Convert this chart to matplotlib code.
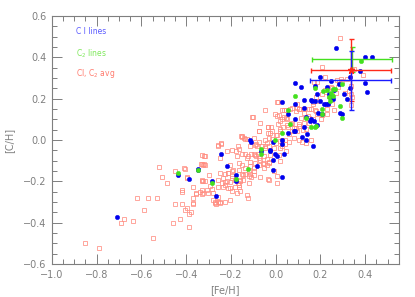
import matplotlib
matplotlib.use('Agg')
import matplotlib.pyplot as plt
from matplotlib.ticker import MultipleLocator

# C I + C2 averaged abundances (open red squares)
avg_feh = [-0.853, -0.79, -0.69, -0.68, -0.638, -0.62, -0.569, -0.529, -0.589, -0.548,
           -0.52, -0.506, -0.487, -0.448, -0.448, -0.457, -0.427, -0.417, -0.417, -0.417,
           -0.407, -0.407, -0.397, -0.397, -0.388, -0.388, -0.379, -0.369, -0.369, -0.358,
           -0.328, -0.328, -0.319, -0.328, -0.328,
           -0.328, -0.321, -0.334, -0.328, -0.298, -0.316, -0.324, -0.304, -0.286, -0.279,
           -0.271, -0.256, -0.249, -0.267, -0.249, -0.226, -0.211, -0.196, -0.196, -0.234,
           -0.219, -0.204, -0.226, -0.214, -0.196, -0.204, -0.181, -0.166, -0.159, -0.174,
           -0.151, -0.136, -0.114, -0.099, -0.121, -0.109, -0.166, -0.151, -0.136, -0.124,
           -0.109, -0.099, -0.088, -0.079, -0.054, -0.039, -0.039, -0.054, -0.076, -0.031,
           0.006, 0.006, -0.034, 0.021, 0.047, -0.124, -0.166, -0.144, -0.121, -0.196,
           -0.178, -0.256, -0.241, -0.256, -0.181, -0.159, -0.136, -0.114, -0.091, -0.069,
           -0.169, -0.279, -0.294,
           -0.103, 0.006, -0.073, -0.034, -0.019, 0.021, -0.031, 0.006, 0.026, -0.139,
           -0.129, -0.151, -0.256, -0.246, -0.316, -0.409, -0.327, -0.316, -0.395, -0.357,
           -0.369, -0.327, -0.309, -0.256, -0.249, -0.271, -0.226, -0.129, -0.174, -0.151,
           -0.129, -0.114, -0.091, -0.076, -0.057, -0.031, -0.024, -0.009, -0.031, -0.069,
           -0.099, -0.054, -0.204, -0.189, -0.211, -0.196, -0.226, -0.234, -0.204, -0.166,
           -0.159, -0.144, -0.121, -0.099, 0.014, -0.009, -0.046, 0.021, -0.114, -0.091,
           -0.219, -0.249, -0.369, -0.339,
           0.209, -0.106, -0.036, 0.009, 0.026, 0.044, 0.096, 0.074, 0.104, 0.111,
           0.126, 0.149, 0.149, 0.167, 0.179, 0.209, 0.227, 0.201, 0.227, 0.261,
           0.25, 0.029, 0.051, 0.011, 0.033, 0.074, 0.081, 0.056, 0.104, 0.126,
           0.021, 0.096, 0.134, -0.001, -0.069, -0.016, 0.186,
           0.287, 0.388, 0.170, 0.185, 0.283, 0.298, 0.32, 0.335, 0.328, 0.335,
           0.343, 0.335, 0.125, 0.208, 0.22, 0.095, 0.253, 0.238, 0.268,
           0.219, 0.273, 0.291, 0.343, 0.35, 0.309, 0.28, 0.246, 0.224, 0.182,
           0.166, 0.156, 0.175, 0.186, 0.168, 0.145, 0.148, 0.156, 0.104, 0.089,
           0.062, 0.036, 0.008, 0.014, -0.046, 0.036, 0.047, 0.02, 0.05, 0.07,
           0.09, 0.104, 0.12, 0.075, 0.06, -0.034, -0.076, -0.024, 0.002, -0.016,
           -0.049, -0.039, 0.0, 0.02, 0.04, 0.06, -0.154, -0.143, -0.149, -0.169,
           -0.099, -0.09, -0.082, -0.076, -0.06, -0.05, -0.03, -0.256, -0.246, -0.166,
           0.029, 0.04, 0.081, 0.104, 0.116, 0.134]
avg_ch = [-0.50, -0.52, -0.40, -0.38, -0.39, -0.28, -0.28, -0.28, -0.34, -0.472,
          -0.13, -0.18, -0.209, -0.149, -0.31, -0.40, -0.38, -0.24, -0.25, -0.31,
          -0.34, -0.139, -0.18, -0.33, -0.36, -0.42, -0.35, -0.31, -0.28, -0.258,
          -0.2, -0.118, -0.079, -0.24, -0.26,
          -0.072, -0.118, -0.118, -0.192, -0.168, -0.196, -0.257, -0.257, -0.238, -0.29,
          -0.306, -0.298, -0.306, -0.311, -0.16, -0.163, -0.16, -0.152, -0.176, -0.184,
          -0.196, -0.205, -0.217, -0.233, -0.249, -0.29, -0.225, -0.228, -0.249, -0.257,
          -0.163, -0.163, -0.163, -0.152, -0.176, -0.179, -0.111, -0.119, -0.069, -0.079,
          -0.066, -0.066, -0.075, -0.066, -0.075, -0.092, -0.119, -0.114, -0.119, -0.108,
          -0.176, -0.209, -0.189, -0.103, -0.051, -0.279, -0.144, -0.192, -0.209, -0.046,
          -0.054, -0.192, -0.209, -0.225, -0.192, -0.2, -0.135, -0.127, -0.111, -0.095,
          -0.209, -0.254, -0.222,
          0.113, 0.116, 0.046, 0.035, 0.062, 0.051, 0.01, 0.026, 0.002, 0.007,
          0.007, 0.018, -0.026, -0.014, -0.079, -0.136, -0.12, -0.12, -0.182, -0.261,
          -0.307, -0.196, -0.242, -0.274, -0.299, -0.302, -0.299, -0.266, -0.079, -0.068,
          -0.087, -0.104, -0.071, -0.087, -0.112, -0.112, -0.071, -0.152, -0.193, -0.177,
          -0.169, -0.136, -0.12, -0.144, -0.161, -0.185, -0.201, -0.226, -0.234, -0.217,
          -0.193, -0.169, -0.152, -0.136, -0.071, -0.039, -0.039, -0.039, -0.03, -0.022,
          -0.055, -0.087, -0.226, -0.25,
          0.355, 0.113, 0.064, 0.184, 0.144, 0.144, 0.176, 0.157, 0.149, 0.108,
          0.132, 0.108, 0.149, 0.173, 0.141, 0.119, 0.124, 0.1, 0.149, 0.144,
          0.173, 0.1, 0.1, 0.076, 0.063, 0.084, 0.059, 0.063, 0.076, 0.084,
          0.043, 0.043, 0.051, 0.124, 0.084, 0.043, 0.189,
          0.495, 0.315, 0.279, 0.282, 0.279, 0.287, 0.295, 0.263, 0.238, 0.222,
          0.206, 0.168, 0.152, 0.222, 0.243, 0.157, 0.254, 0.214, 0.23,
          0.303, 0.29, 0.295, 0.339, 0.343, 0.226, 0.259, 0.257, 0.233, 0.207,
          0.184, 0.148, 0.144, 0.124, 0.1, 0.116, 0.083, 0.002, 0.148, 0.14,
          0.148, 0.144, 0.184, 0.119, 0.144, 0.11, 0.105, 0.09, 0.075, 0.08,
          0.06, 0.07, 0.05, 0.045, 0.03, 0.064, 0.043, 0.035, 0.022, 0.005,
          0.002, -0.014, -0.015, -0.005, 0.002, -0.01, 0.02, 0.01, 0.015, -0.03,
          0.01, -0.02, -0.03, -0.01, -0.03, -0.03, -0.03, -0.027, -0.017, -0.042,
          -0.03, -0.02, 0.01, 0.002, -0.01, -0.014]

# C I lines (blue dots)
ci_feh = [0.268, 0.40, 0.43, 0.377, 0.33, 0.40, 0.41, 0.198, 0.246, 0.085,
          0.115, 0.177, 0.228, 0.26, 0.283, 0.307, 0.33, 0.238, 0.243, 0.258,
          0.318, 0.026, 0.085, 0.126, 0.156, 0.177, 0.196, 0.215, 0.225, 0.235,
          0.189, 0.208, 0.286, 0.298, 0.127, 0.055, 0.085, 0.136, 0.155, 0.17,
          0.186, 0.127, 0.081, 0.088, 0.055, 0.118, 0.136, 0.026, 0.026, 0.166,
          -0.013, -0.114, -0.11, -0.027, -0.246, -0.066, -0.024, -0.004, 0.006, 0.036,
          -0.013, -0.084, -0.216, -0.177, -0.177, -0.286, -0.267, -0.013, 0.026, -0.346,
          -0.71, -0.436, -0.388, -0.349, 0.186, 0.164, 0.156, 0.141]
ci_ch = [0.445, 0.40, 0.40, 0.334, 0.305, 0.276, 0.233, 0.305, 0.287, 0.276,
         0.255, 0.262, 0.255, 0.243, 0.27, 0.223, 0.25, 0.222, 0.206, 0.20,
         0.20, 0.184, 0.173, 0.193, 0.194, 0.19, 0.19, 0.173, 0.173, 0.173,
         0.133, 0.124, 0.133, 0.124, 0.157, 0.124, 0.103, 0.113, 0.092, 0.092,
         0.071, 0.062, 0.043, 0.043, 0.032, 0.014, 0.002, 0.0, -0.019, -0.027,
         -0.011, 0.0, -0.01, -0.046, -0.069, -0.051, -0.051, -0.069, -0.079, -0.069,
         -0.098, -0.128, -0.128, -0.168, -0.2, -0.2, -0.269, -0.147, -0.18, -0.147,
         -0.37, -0.168, -0.19, -0.139, 0.225, 0.189, 0.1, 0.03]

# C2 lines (green dots)
c2_feh = [0.379, 0.085, 0.177, 0.21, 0.228, 0.246, 0.265, 0.236, 0.255, 0.298,
          0.055, 0.136, 0.208, 0.208, 0.288, 0.298, 0.157, 0.177, 0.066, 0.026,
          -0.001, -0.064, -0.064, -0.124, -0.177, -0.286, -0.436, -0.349, 0.258, 0.242,
          0.182]
c2_ch = [0.384, 0.214, 0.25, 0.235, 0.24, 0.23, 0.245, 0.21, 0.215, 0.272,
         0.144, 0.105, 0.152, 0.124, 0.165, 0.105, 0.064, 0.064, 0.076, 0.035,
         0.002, -0.043, -0.066, -0.139, -0.188, -0.209, -0.16, -0.147, 0.246, 0.19,
         0.067]

# typical error bars (x, y, xerr, yerr)
err_x = [0.34, 0.337, 0.335]
err_y = [0.39, 0.34, 0.29]
err_dx = [0.18, 0.18, 0.18]
err_dy = [0.06, 0.15, 0.143]
err_col = ['#44e01e', '#ff2a1a', '#1a1aff']

grey = '#7f7f7f'

fig = plt.figure(figsize=(4.15, 2.97), dpi=100)
ax = fig.add_axes([0.125, 0.111, 0.836, 0.835])

ax.plot(avg_feh, avg_ch, ls='none', marker='s', ms=3.3, mfc='none',
        mec='#ff8d80', mew=0.6, alpha=0.9)
ax.plot(ci_feh, ci_ch, ls='none', marker='o', ms=3.2, mfc='#0000ee',
        mec='#0000ee', mew=0.3)
ax.plot(c2_feh, c2_ch, ls='none', marker='o', ms=3.2, mfc='#44e01e',
        mec='#44e01e', mew=0.3)

for x, y, dx, dy, c in zip(err_x, err_y, err_dx, err_dy, err_col):
    ax.errorbar(x, y, xerr=dx, yerr=dy, color=c, lw=1.0, capsize=1.8,
                capthick=1.0)
ax.plot(err_x[1], err_y[1], marker='*', ms=5, color='#ff2a1a')

ax.set_xlim(-1.0, 0.55)
ax.set_ylim(-0.6, 0.6)
ax.xaxis.set_major_locator(MultipleLocator(0.2))
ax.xaxis.set_minor_locator(MultipleLocator(0.05))
ax.yaxis.set_major_locator(MultipleLocator(0.2))
ax.yaxis.set_minor_locator(MultipleLocator(0.05))
ax.tick_params(which='both', direction='in', top=True, right=True,
               colors=grey, labelsize=7, width=0.7)
ax.tick_params(which='major', length=7, pad=4)
ax.tick_params(which='minor', length=3.5)
for s in ax.spines.values():
    s.set_color(grey)
    s.set_linewidth(0.8)

ax.set_xlabel('[Fe/H]', color=grey, fontsize=7, labelpad=4)
ax.set_ylabel('[C/H]', color=grey, fontsize=7, labelpad=6)

ax.text(0.07, 0.955, 'C I lines', color='#5a5aff', fontsize=5.5,
        transform=ax.transAxes, va='top')
ax.text(0.07, 0.875, 'C$_2$ lines', color='#7ee85a', fontsize=5.5,
        transform=ax.transAxes, va='top')
ax.text(0.07, 0.795, 'CI, C$_2$ avg', color='#ff7b6e', fontsize=5.5,
        transform=ax.transAxes, va='top')

fig.savefig('out.png', dpi=100)
